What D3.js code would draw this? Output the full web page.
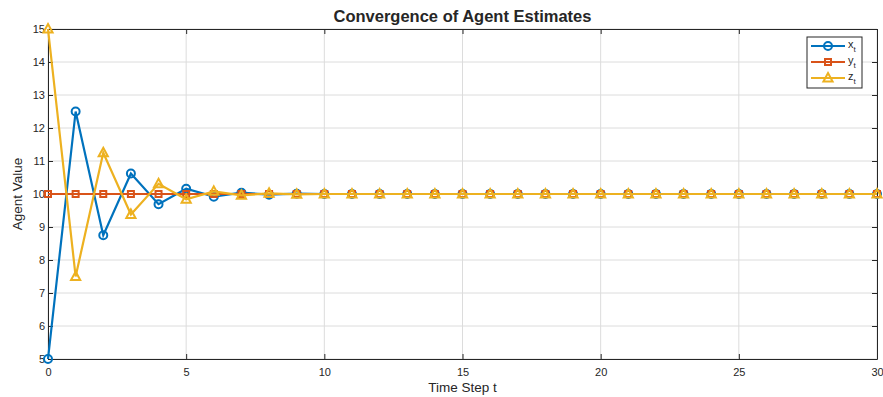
<!DOCTYPE html>
<html>
<head>
<meta charset="utf-8">
<script src="https://cdn.jsdelivr.net/npm/d3@7"></script>
<style>
  body { margin: 0; background: #fff; }
  text { font-family: "Liberation Sans", Arial, sans-serif; fill: #262626; }
</style>
</head>
<body>
<div id="chart"></div>
<script>
// time steps 0..30
var steps = d3.range(0, 31);

// agent estimates
var xVals = [5, 12.5, 8.75, 10.62, 9.69, 10.16, 9.92, 10.04, 9.98, 10.01, 10,
  10, 10, 10, 10, 10, 10, 10, 10, 10, 10, 10, 10, 10, 10, 10, 10, 10, 10, 10, 10];
var yVals = [10, 10, 10, 10, 10, 10, 10, 10, 10, 10, 10,
  10, 10, 10, 10, 10, 10, 10, 10, 10, 10, 10, 10, 10, 10, 10, 10, 10, 10, 10, 10];
var zVals = [15, 7.5, 11.25, 9.38, 10.31, 9.84, 10.08, 9.96, 10.02, 9.99, 10,
  10, 10, 10, 10, 10, 10, 10, 10, 10, 10, 10, 10, 10, 10, 10, 10, 10, 10, 10, 10];

var xTicks = [0, 5, 10, 15, 20, 25, 30];
var yTicks = [5, 6, 7, 8, 9, 10, 11, 12, 13, 14, 15];

var series = [
  {name: "x", values: xVals, color: "#0072BD", marker: "circle"},
  {name: "y", values: yVals, color: "#D95319", marker: "square"},
  {name: "z", values: zVals, color: "#EDB120", marker: "triangle"}
];

var W = 883, H = 397;
var margin = {top: 29, right: 6, bottom: 38, left: 48},
    width = W - margin.left - margin.right,
    height = H - margin.top - margin.bottom;

var svg = d3.select("#chart").append("svg")
    .attr("width", W)
    .attr("height", H);

var g = svg.append("g")
    .attr("transform", "translate(" + margin.left + "," + margin.top + ")");

var x = d3.scaleLinear().domain([0, 30]).range([0, width]);
var y = d3.scaleLinear().domain([5, 15]).range([height, 0]);

// grid
g.append("g").selectAll("line")
  .data(xTicks).enter().append("line")
  .attr("x1", function(d) { return x(d); }).attr("x2", function(d) { return x(d); })
  .attr("y1", 0).attr("y2", height)
  .attr("stroke", "#dcdcdc").attr("stroke-width", 1);
g.append("g").selectAll("line")
  .data(yTicks).enter().append("line")
  .attr("x1", 0).attr("x2", width)
  .attr("y1", function(d) { return y(d); }).attr("y2", function(d) { return y(d); })
  .attr("stroke", "#dcdcdc").attr("stroke-width", 1);

// axes, ticks pointing inward
var tl = 5;
function styleAxis(sel) {
  sel.select(".domain").attr("stroke", "#262626");
  sel.selectAll(".tick line").attr("stroke", "#262626");
  sel.selectAll("text").style("font-size", "11px").attr("fill", "#262626");
}
g.append("g").attr("transform", "translate(0," + height + ")")
  .call(d3.axisBottom(x).tickValues(xTicks).tickSizeInner(-tl).tickSizeOuter(0).tickPadding(9))
  .call(styleAxis);
g.append("g")
  .call(d3.axisTop(x).tickValues(xTicks).tickSizeInner(-tl).tickSizeOuter(0).tickFormat(""))
  .call(styleAxis);
g.append("g")
  .call(d3.axisLeft(y).tickValues(yTicks).tickSizeInner(-tl).tickSizeOuter(0).tickPadding(3))
  .call(styleAxis);
g.append("g").attr("transform", "translate(" + width + ",0)")
  .call(d3.axisRight(y).tickValues(yTicks).tickSizeInner(-tl).tickSizeOuter(0).tickFormat(""))
  .call(styleAxis);

var line = d3.line()
  .x(function(d, i) { return x(steps[i]); })
  .y(function(d) { return y(d); });

function drawMarker(sel, type, color) {
  if (type === "circle") {
    sel.append("circle").attr("r", 4)
      .attr("fill", "none").attr("stroke", color).attr("stroke-width", 2);
  } else if (type === "square") {
    sel.append("rect").attr("x", -3).attr("y", -3).attr("width", 6).attr("height", 6)
      .attr("fill", "none").attr("stroke", color).attr("stroke-width", 2);
  } else {
    sel.append("path").attr("d", "M0,-5L4.6,3.5L-4.6,3.5Z")
      .attr("fill", "none").attr("stroke", color).attr("stroke-width", 2)
      .attr("stroke-linejoin", "miter");
  }
}

series.forEach(function(s) {
  g.append("path")
    .datum(s.values)
    .attr("fill", "none")
    .attr("stroke", s.color)
    .attr("stroke-width", 2.2)
    .attr("d", line);
  g.append("g").selectAll("g")
    .data(s.values).enter().append("g")
    .attr("transform", function(d, i) { return "translate(" + x(steps[i]) + "," + y(d) + ")"; })
    .each(function() { drawMarker(d3.select(this), s.marker, s.color); });
});

// legend
var lg = svg.append("g").attr("transform", "translate(807,37)");
lg.append("rect").attr("width", 55).attr("height", 51)
  .attr("fill", "#fff").attr("stroke", "#262626").attr("stroke-width", 1);
series.forEach(function(s, i) {
  var ly = 9 + i * 16;
  lg.append("line").attr("x1", 4).attr("x2", 38).attr("y1", ly).attr("y2", ly)
    .attr("stroke", s.color).attr("stroke-width", 2.2);
  var m = lg.append("g").attr("transform", "translate(21," + ly + ")");
  drawMarker(m, s.marker, s.color);
  var t = lg.append("text").attr("x", 41).attr("y", ly + 2).style("font-size", "11px");
  t.append("tspan").text(s.name);
  t.append("tspan").attr("dy", 4).style("font-size", "8px").text("t");
});

// title and labels
svg.append("text").attr("x", margin.left + width / 2).attr("y", 22)
  .attr("text-anchor", "middle").style("font-size", "16.5px").style("font-weight", "bold")
  .attr("fill", "#000").text("Convergence of Agent Estimates");
svg.append("text").attr("x", margin.left + width / 2).attr("y", 392)
  .attr("text-anchor", "middle").style("font-size", "13.5px").text("Time Step t");
svg.append("text").attr("transform", "translate(22," + (margin.top + height / 2) + ") rotate(-90)")
  .attr("text-anchor", "middle").style("font-size", "13.5px").text("Agent Value");
</script>
</body>
</html>
